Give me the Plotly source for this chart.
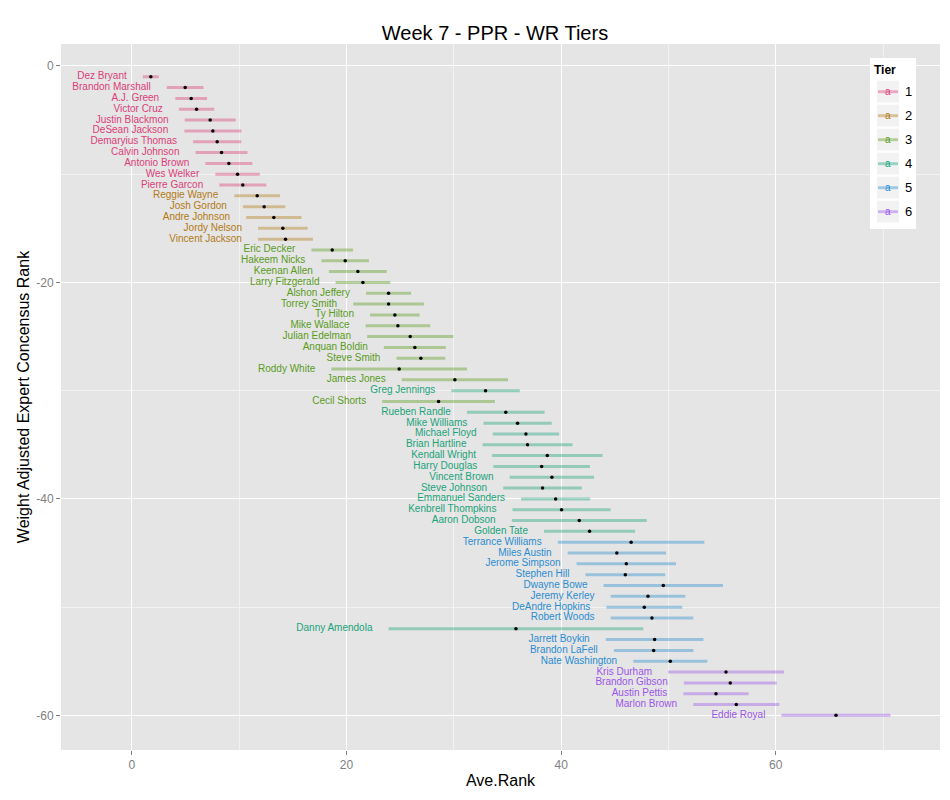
import plotly.graph_objects as go

# week 7 PPR WR tiers (expert consensus, avg rank +/- sd)
players = ["Dez Bryant", "Brandon Marshall", "A.J. Green", "Victor Cruz", "Justin Blackmon",
           "DeSean Jackson", "Demaryius Thomas", "Calvin Johnson", "Antonio Brown", "Wes Welker",
           "Pierre Garcon", "Reggie Wayne", "Josh Gordon", "Andre Johnson", "Jordy Nelson",
           "Vincent Jackson", "Eric Decker", "Hakeem Nicks", "Keenan Allen", "Larry Fitzgerald",
           "Alshon Jeffery", "Torrey Smith", "Ty Hilton", "Mike Wallace", "Julian Edelman",
           "Anquan Boldin", "Steve Smith", "Roddy White", "James Jones", "Greg Jennings",
           "Cecil Shorts", "Rueben Randle", "Mike Williams", "Michael Floyd", "Brian Hartline",
           "Kendall Wright", "Harry Douglas", "Vincent Brown", "Steve Johnson", "Emmanuel Sanders",
           "Kenbrell Thompkins", "Aaron Dobson", "Golden Tate", "Terrance Williams", "Miles Austin",
           "Jerome Simpson", "Stephen Hill", "Dwayne Bowe", "Jeremy Kerley", "DeAndre Hopkins",
           "Robert Woods", "Danny Amendola", "Jarrett Boykin", "Brandon LaFell", "Nate Washington",
           "Kris Durham", "Brandon Gibson", "Austin Pettis", "Marlon Brown", "Eddie Royal"]
ecr_rank = [1, 2, 3, 4, 5, 6, 7, 8, 9, 10, 11, 12, 13, 14, 15, 16, 17, 18, 19, 20,
            21, 22, 23, 24, 25, 26, 27, 28, 29, 30, 31, 32, 33, 34, 35, 36, 37, 38, 39, 40,
            41, 42, 43, 44, 45, 46, 47, 48, 49, 50, 51, 52, 53, 54, 55, 56, 57, 58, 59, 60]
tiers = [1, 1, 1, 1, 1, 1, 1, 1, 1, 1, 1, 2, 2, 2, 2, 2, 3, 3, 3, 3,
         3, 3, 3, 3, 3, 3, 3, 3, 3, 4, 3, 4, 4, 4, 4, 4, 4, 4, 4, 4,
         4, 4, 4, 5, 5, 5, 5, 5, 5, 5, 5, 4, 5, 5, 5, 6, 6, 6, 6, 6]
ave_rank = [1.77, 4.97, 5.53, 6.03, 7.30, 7.55, 7.95, 8.36, 9.04, 9.85,
            10.34, 11.68, 12.33, 13.23, 14.07, 14.32, 18.67, 19.88, 21.06, 21.53,
            23.92, 23.92, 24.51, 24.79, 25.94, 26.37, 26.93, 24.91, 30.10, 32.96,
            28.58, 34.84, 35.94, 36.72, 36.87, 38.71, 38.18, 39.14, 38.27, 39.49,
            40.04, 41.69, 42.65, 46.52, 45.19, 46.07, 45.98, 49.52, 48.09, 47.75,
            48.46, 35.79, 48.71, 48.62, 50.17, 55.36, 55.76, 54.43, 56.32, 65.61]
std_dev = [0.74, 1.71, 1.48, 1.65, 2.38, 2.66, 2.24, 2.42, 2.19, 2.07,
           2.19, 2.13, 1.97, 2.58, 2.31, 2.56, 1.94, 2.21, 2.70, 2.55,
           2.10, 3.29, 2.31, 3.01, 4.02, 2.89, 2.27, 6.32, 4.95, 3.18,
           5.25, 3.62, 3.18, 3.09, 4.19, 5.14, 4.50, 3.93, 3.67, 3.22,
           4.57, 6.29, 4.24, 6.83, 4.58, 4.63, 3.71, 5.56, 3.48, 3.53,
           3.85, 11.87, 4.55, 3.71, 3.45, 5.39, 4.33, 3.04, 4.01, 5.08]
tier_levels = [1, 2, 3, 4, 5, 6]

colors = {1: "#DB3E79", 2: "#B17A16", 3: "#5A9B1C", 4: "#1AA37A", 5: "#2B8CD0", 6: "#9B55E8"}
bar_colors = {1: "rgba(219,62,121,0.4)", 2: "rgba(177,122,22,0.4)", 3: "rgba(90,155,28,0.4)",
              4: "rgba(26,163,122,0.4)", 5: "rgba(43,140,208,0.4)", 6: "rgba(155,85,232,0.4)"}
FONT = "Liberation Sans, Arial, sans-serif"

fig = go.Figure()
for t in tier_levels:
    idx = [i for i in range(len(players)) if tiers[i] == t]
    xs = [ave_rank[i] for i in idx]
    ys = [-ecr_rank[i] for i in idx]
    sds = [std_dev[i] for i in idx]
    fig.add_trace(go.Scatter(x=xs, y=ys, mode="markers",
                             marker=dict(color="black", size=3.5),
                             error_x=dict(type="data", array=sds, symmetric=True,
                                          color=bar_colors[t], thickness=3, width=0),
                             showlegend=False, hoverinfo="skip"))
    # labels sit just left of the bar
    fig.add_trace(go.Scatter(x=[ave_rank[i] - std_dev[i] - 1.5 for i in idx], y=ys,
                             mode="text", text=[players[i] for i in idx],
                             textposition="middle left",
                             textfont=dict(family=FONT, size=10, color=colors[t]),
                             showlegend=False, hoverinfo="skip"))

# page has an 8px body margin, so the figure is drawn 8px in from the window corner
OFF = 8
W, H = 950 - OFF, 800 - OFF
L, R, T, B = 61 - OFF, 940 - OFF, 44 - OFF, 750 - OFF
def px(x):
    return (x - OFF - L) / (R - L)
def py(y):
    return 1 - (y - OFF - T) / (B - T)

# hand-made ggplot style legend box (positions in window pixels)
shapes = [dict(type="rect", xref="paper", yref="paper", x0=px(870), x1=px(916), y0=py(229), y1=py(58),
               fillcolor="white", line=dict(width=0), layer="above")]
annotations = [dict(text="<b>Tier</b>", xref="paper", yref="paper", x=px(872), y=py(70),
                    xanchor="left", yanchor="middle", showarrow=False,
                    font=dict(family=FONT, size=12, color="black"))]
for k, t in enumerate(tier_levels):
    cy = 91.7 + 24 * k
    shapes.append(dict(type="rect", xref="paper", yref="paper", x0=px(877), x1=px(899),
                       y0=py(cy + 11), y1=py(cy - 11), fillcolor="#F2F2F2",
                       line=dict(width=0), layer="above"))
    shapes.append(dict(type="line", xref="paper", yref="paper", x0=px(878), x1=px(898),
                       y0=py(cy), y1=py(cy), line=dict(color=bar_colors[t], width=3), layer="above"))
    annotations.append(dict(text="a", xref="paper", yref="paper", x=px(888), y=py(cy),
                            xanchor="center", yanchor="middle", showarrow=False,
                            font=dict(family=FONT, size=10, color=colors[t])))
    annotations.append(dict(text=str(t), xref="paper", yref="paper", x=px(903), y=py(cy),
                            xanchor="left", yanchor="middle", showarrow=False,
                            font=dict(family=FONT, size=13, color="black")))

fig.update_layout(
    width=W, height=H,
    margin=dict(l=L, r=W - R, t=T, b=H - B),
    paper_bgcolor="white", plot_bgcolor="#E5E5E5",
    font=dict(family=FONT),
    title=dict(text="Week 7 - PPR - WR Tiers", x=(495 - OFF) / W, xanchor="center",
               y=1 - (33 - OFF) / H, yanchor="middle", font=dict(size=20, color="black")),
    shapes=shapes, annotations=annotations,
)
fig.update_xaxes(range=[-6.6, 75.3], tickvals=[0, 20, 40, 60], showgrid=True, gridcolor="white",
                 gridwidth=1.3, zeroline=False, ticks="outside", ticklen=4, tickcolor="#7F7F7F",
                 tickfont=dict(size=12, color="#7F7F7F"), automargin=False,
                 minor=dict(dtick=10, tick0=0, showgrid=True, gridcolor="#F2F2F2", gridwidth=0.6),
                 title=dict(text="Ave.Rank", font=dict(size=16, color="black"), standoff=3))
fig.update_yaxes(range=[-63.2, 2.03], tickvals=[0, -20, -40, -60], ticktext=["0", "-20", "-40", "-60"],
                 showgrid=True, gridcolor="white", gridwidth=1.3, zeroline=False,
                 ticks="outside", ticklen=4, tickcolor="#7F7F7F", automargin=False,
                 tickfont=dict(size=12, color="#7F7F7F"),
                 minor=dict(dtick=10, tick0=0, showgrid=True, gridcolor="#F2F2F2", gridwidth=0.6),
                 title=dict(text="Weight Adjusted Expert Concensus Rank", font=dict(size=16, color="black"),
                            standoff=2))

fig.write_html("out.html")
